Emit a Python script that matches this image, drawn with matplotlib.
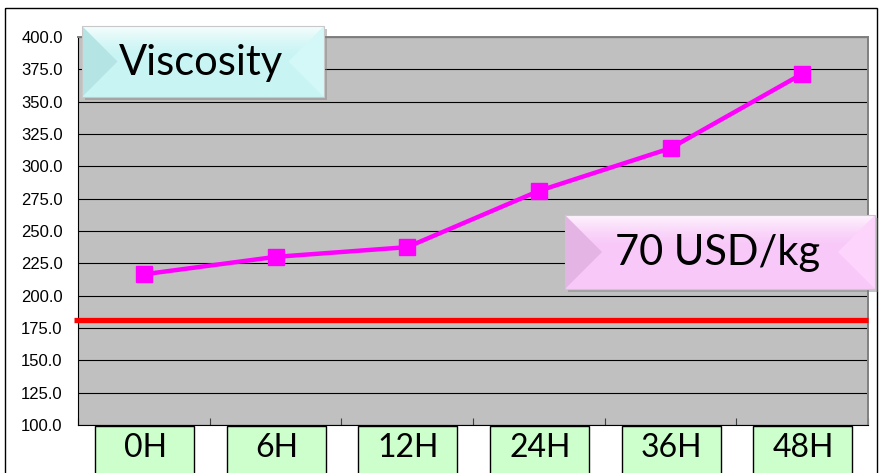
import numpy as np
import matplotlib
matplotlib.use('Agg')
import matplotlib.pyplot as plt
import matplotlib.transforms as mtransforms
from matplotlib.patches import Rectangle, Polygon

hours = ['0H', '6H', '12H', '24H', '36H', '48H']
viscosity = [216.5, 230.0, 237.5, 281.0, 314.0, 371.5]
limit = 181.0
yticks = [100, 125, 150, 175, 200, 225, 250, 275, 300, 325, 350, 375, 400]

W, H = 881, 473
fig = plt.figure(figsize=(W / 100, H / 100), dpi=100)
fig.patch.set_facecolor('white')

def px(x0, y0, x1, y1):
    # pixel box -> figure fraction rect
    return [x0 / W, 1 - y1 / H, (x1 - x0) / W, (y1 - y0) / H]

ax = fig.add_axes(px(78, 37, 868, 425))
ax.set_facecolor('#c0c0c0')
x = np.arange(len(hours))
ax.plot(x, viscosity, color='#ff00ff', lw=3.2, marker='s', ms=11.5,
        mec='#ff00ff', mfc='#ff00ff', zorder=4)
ax.axhline(limit, xmin=-0.005, xmax=1.0, color='#ff0000', lw=3.8, zorder=3,
           clip_on=False, solid_capstyle='butt')

ax.set_xlim(-0.5, len(hours) - 0.5)
ax.set_ylim(100, 400)
ax.set_yticks(yticks)
ax.set_yticklabels(['%.1f' % v for v in yticks], fontsize=12,
                   family='Liberation Sans')
ax.yaxis.grid(True, color='black', lw=0.8)
ax.set_axisbelow(True)
ax.tick_params(axis='y', length=0, pad=11)
ax.set_xticks(np.arange(len(hours) + 1) - 0.5)
ax.set_xticklabels([])
ax.tick_params(axis='x', length=5, width=0.8, direction='in', color='#404040')
ax.spines['top'].set_color('#808080')
ax.spines['top'].set_linewidth(1.4)
ax.spines['top'].set_zorder(2.5)
ax.spines['right'].set_color('#808080')
ax.spines['right'].set_linewidth(1.4)
ax.spines['left'].set_color('black')
ax.spines['bottom'].set_color('black')

# category labels in green boxes under the axis
trans = mtransforms.blended_transform_factory(ax.transData, ax.transAxes)
for i, lab in enumerate(hours):
    ax.add_patch(Rectangle((i - 0.37, -0.2), 0.75, 0.197, transform=trans,
                           facecolor='#ccffcc', edgecolor='black', lw=1.0,
                           clip_on=False, zorder=5))
    ax.text(i + 0.01, -0.06, lab, transform=trans, ha='center', va='center',
            fontsize=23, family='Lato', clip_on=False, zorder=6)

# overlay in pixel coordinates for the frame and the bevelled captions
ov = fig.add_axes([0, 0, 1, 1], zorder=10)
ov.set_xlim(0, W)
ov.set_ylim(H, 0)
ov.axis('off')
ov.patch.set_alpha(0)
ov.add_patch(Rectangle((5, 8), 872, 480, fill=False, edgecolor='black', lw=1.0))


def bevel_box(x0, y0, x1, y1, face, side_dark, side_light, text, size):
    ov.add_patch(Rectangle((x0 + 3, y0 + 3), x1 - x0, y1 - y0,
                           facecolor='#808080', alpha=0.45, edgecolor='none'))
    ov.add_patch(Rectangle((x0, y0), x1 - x0, y1 - y0, facecolor=face,
                           edgecolor='none'))
    ym = (y0 + y1) / 2
    dx = 0.5 * (y1 - y0)
    # white sheen across the top
    grad = np.linspace(1, 0, 64).reshape(-1, 1)
    img = np.zeros((64, 1, 4))
    img[..., :3] = 1
    img[..., 3] = 0.85 * grad ** 1.5
    im = ov.imshow(img, extent=(x0, x1, y0 + 0.45 * (y1 - y0), y0),
                   aspect='auto', interpolation='bilinear', zorder=2)
    im.set_clip_path(Rectangle((x0, y0), x1 - x0, y1 - y0, transform=ov.transData))
    ov.add_patch(Polygon([(x0, y0), (x0 + dx, ym), (x0, y1)], closed=True,
                         facecolor=side_dark, edgecolor='none', zorder=3))
    ov.add_patch(Polygon([(x1, y0), (x1 - dx, ym), (x1, y1)], closed=True,
                         facecolor=side_light, edgecolor='none', zorder=3))
    ov.add_patch(Rectangle((x0, y0), x1 - x0, y1 - y0, fill=False,
                           edgecolor='#c8c8c8', lw=0.8, zorder=4))
    ov.text((x0 + x1) / 2 - 2, ym + 1, text, ha='center', va='center',
            fontsize=size, family='Lato', zorder=5)


bevel_box(82, 26, 324, 97, '#c8f4f4', '#b4e4e4', '#d4f8f8', 'Viscosity', 30)
bevel_box(565, 215, 875, 289, '#f8c8f8', '#e4b4e4', '#fcd4fc', '70 USD/kg', 30)

fig.savefig('out.png', dpi=100)
